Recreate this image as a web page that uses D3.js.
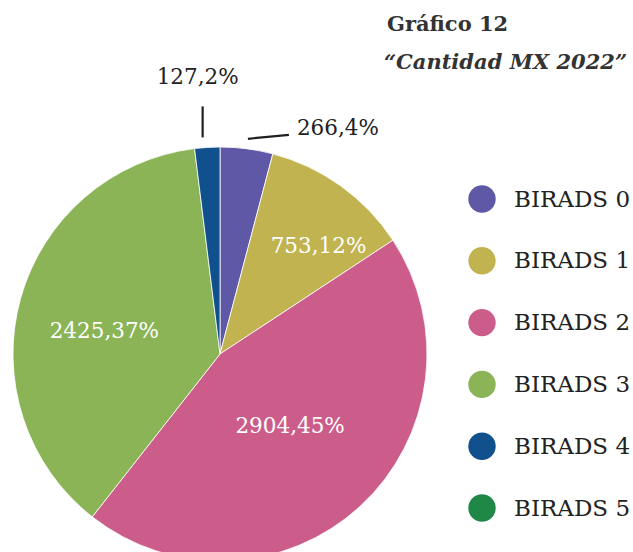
<!DOCTYPE html>
<html>
<head>
<meta charset="utf-8">
<script src="https://cdn.jsdelivr.net/npm/d3@7"></script>
<style>
  body { margin: 0; background: #fff; }
  svg text { font-family: "DejaVu Serif", serif; }
</style>
</head>
<body>
<div id="chart"></div>
<script>
// data
const categories = ['BIRADS 0', 'BIRADS 1', 'BIRADS 2', 'BIRADS 3', 'BIRADS 4', 'BIRADS 5'];
const values = [266, 753, 2904, 2425, 127, 0];
const colors = ['#5f58a6', '#c1b450', '#cc5d8b', '#8ab456', '#10508c', '#208846'];

const width = 633, height = 552;
const cx = 220, cy = 354, radius = 207;

// how each slice label is placed (layout only)
const labelLayout = {
  'BIRADS 0': { outside: true, sx: 0, lx: 41, ly: -4, tx: 8, ty: 0, anchor: 'start' },
  'BIRADS 1': { dx: 26, dy: -8 },
  'BIRADS 2': { dx: -14, dy: -20 },
  'BIRADS 3': { dx: 4, dy: 9 },
  'BIRADS 4': { outside: true, sx: -4, lx: 0, ly: -31, tx: -5, ty: -22, anchor: 'middle' }
};

const total = d3.sum(values);
const data = categories.map((c, i) => ({ cat: c, value: values[i], color: colors[i] }));

const svg = d3.select('#chart').append('svg')
  .attr('width', width)
  .attr('height', height);

const pie = d3.pie().sort(null).value(d => d.value);
const arc = d3.arc().innerRadius(0).outerRadius(radius);
const labelArc = d3.arc().innerRadius(radius * 0.6).outerRadius(radius * 0.6);
const leaderArc = d3.arc().innerRadius(radius + 10).outerRadius(radius + 10);

const g = svg.append('g').attr('transform', `translate(${cx}, ${cy})`);
const arcs = pie(data).filter(d => d.data.value > 0);

g.selectAll('path.slice')
  .data(arcs)
  .enter().append('path')
  .attr('class', 'slice')
  .attr('d', arc)
  .attr('fill', d => d.data.color)
  .attr('stroke', '#fff')
  .attr('stroke-width', 0.8);

const fmt = d => d.data.value + ',' + Math.round(d.data.value / total * 100) + '%';

// inside labels
g.selectAll('text.inlabel')
  .data(arcs.filter(d => labelLayout[d.data.cat] && !labelLayout[d.data.cat].outside))
  .enter().append('text')
  .attr('class', 'inlabel')
  .attr('x', d => labelArc.centroid(d)[0] + labelLayout[d.data.cat].dx)
  .attr('y', d => labelArc.centroid(d)[1] + labelLayout[d.data.cat].dy)
  .attr('dy', '0.36em')
  .attr('text-anchor', 'middle')
  .attr('font-size', '21.5px')
  .attr('fill', '#fff')
  .text(fmt);

// outside labels with leader lines
const outside = arcs.filter(d => labelLayout[d.data.cat] && labelLayout[d.data.cat].outside);
const startX = d => leaderArc.centroid(d)[0] + labelLayout[d.data.cat].sx;
const startY = d => leaderArc.centroid(d)[1];

g.selectAll('line.leader')
  .data(outside)
  .enter().append('line')
  .attr('class', 'leader')
  .attr('x1', startX)
  .attr('y1', startY)
  .attr('x2', d => startX(d) + labelLayout[d.data.cat].lx)
  .attr('y2', d => startY(d) + labelLayout[d.data.cat].ly)
  .attr('stroke', '#1f1f1f')
  .attr('stroke-width', 2.2);

g.selectAll('text.outlabel')
  .data(outside)
  .enter().append('text')
  .attr('class', 'outlabel')
  .attr('x', d => startX(d) + labelLayout[d.data.cat].lx + labelLayout[d.data.cat].tx)
  .attr('y', d => startY(d) + labelLayout[d.data.cat].ly + labelLayout[d.data.cat].ty)
  .attr('text-anchor', d => labelLayout[d.data.cat].anchor)
  .attr('font-size', '21.5px')
  .attr('fill', '#222')
  .text(fmt);

// title
const title = svg.append('text')
  .attr('x', 387)
  .attr('fill', '#333');
title.append('tspan')
  .attr('x', 387).attr('y', 31)
  .attr('font-weight', 'bold')
  .attr('font-size', '21px')
  .text('Gráfico 12');
title.append('tspan')
  .attr('x', 384).attr('y', 69)
  .attr('font-weight', 'bold')
  .attr('font-style', 'italic')
  .attr('font-size', '21px')
  .text('“Cantidad MX 2022”');

// legend
const legendY = d3.scalePoint().domain(categories).range([199, 508]);
const legend = svg.selectAll('g.legend')
  .data(data)
  .enter().append('g')
  .attr('class', 'legend')
  .attr('transform', d => `translate(482, ${legendY(d.cat)})`);

legend.append('circle')
  .attr('r', 13.7)
  .attr('fill', d => d.color);

legend.append('text')
  .attr('x', 32)
  .attr('dy', '0.33em')
  .attr('font-size', '23px')
  .attr('fill', '#222')
  .text(d => d.cat);
</script>
</body>
</html>
